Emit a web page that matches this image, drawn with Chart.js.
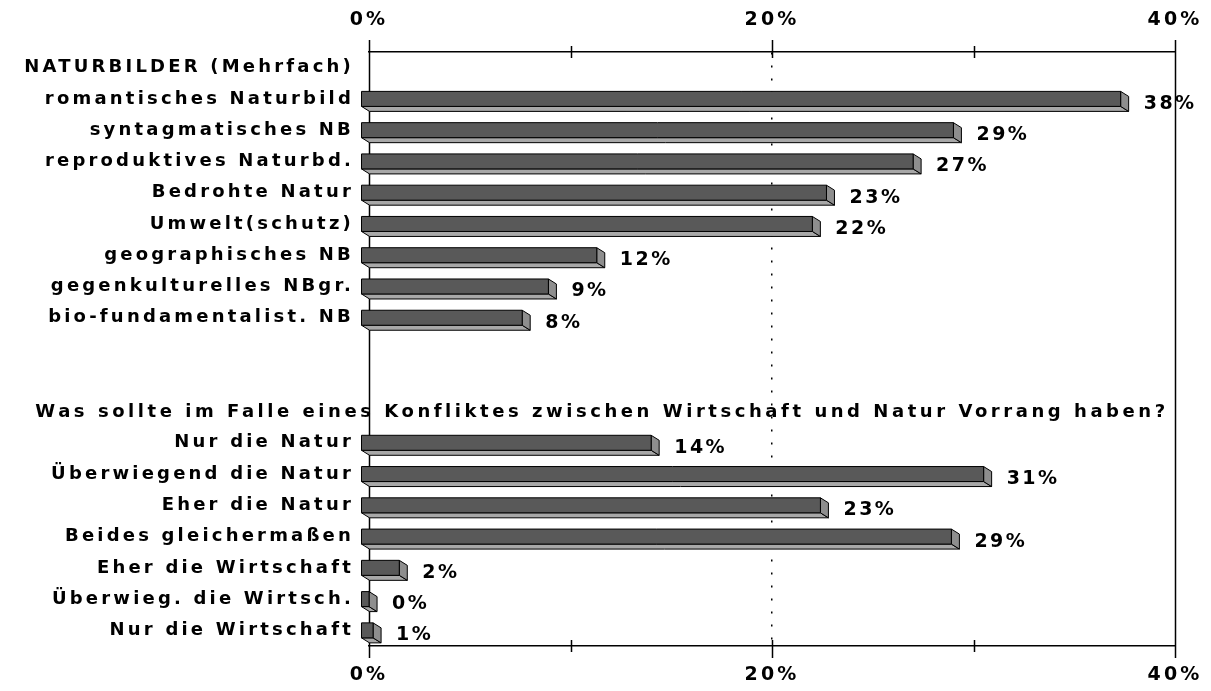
<!DOCTYPE html>
<html>
<head>
<meta charset="utf-8">
<script src="https://cdn.jsdelivr.net/npm/chart.js@4.4.1/dist/chart.umd.min.js"></script>
<style>
  html, body { margin: 0; padding: 0; background: #fff; }
  #wrap { width: 1211px; height: 691px; }
</style>
</head>
<body>
<div id="wrap"><canvas id="chart"></canvas></div>
<script>
// Naturbilder (Mehrfachnennung)
const naturHeader = 'NATURBILDER (Mehrfach)';
const naturLabels = ['romantisches Naturbild', 'syntagmatisches NB', 'reproduktives Naturbd.', 'Bedrohte Natur',
  'Umwelt(schutz)', 'geographisches NB', 'gegenkulturelles NBgr.', 'bio-fundamentalist. NB'];
const naturValues = [37.7, 29.4, 27.4, 23.1, 22.4, 11.7, 9.3, 8.0];

// Vorrang Wirtschaft / Natur
const vorrangHeader = 'Was sollte im Falle eines Konfliktes zwischen Wirtschaft und Natur Vorrang haben?';
const vorrangLabels = ['Nur die Natur', 'Überwiegend die Natur', 'Eher die Natur', 'Beides gleichermaßen',
  'Eher die Wirtschaft', 'Überwieg. die Wirtsch.', 'Nur die Wirtschaft'];
const vorrangValues = [14.4, 30.9, 22.8, 29.3, 1.9, 0.4, 0.6];

const xTickValues = [0, 10, 20, 30, 40];
const xTickLabels = ['0%', '', '20%', '', '40%'];

const labels = [naturHeader, ...naturLabels, '', '', vorrangHeader, ...vorrangLabels];
const values = [null, ...naturValues, null, null, null, ...vorrangValues];
const headerIdx = labels.indexOf(vorrangHeader);

const FONT = '"DejaVu Sans", sans-serif';
const SPACING = '3.2px';
const DX = 8, DY = 5; // Tiefe der 3D-Balken

const threeD = {
  id: 'threeD',
  beforeDraw(chart) {
    chart.ctx.letterSpacing = SPACING;
  },
  beforeDatasetsDraw(chart) {
    const { ctx, chartArea: a, scales: { x } } = chart;
    ctx.save();
    ctx.strokeStyle = '#000';
    ctx.lineWidth = 1.5;
    ctx.beginPath();
    xTickValues.forEach(v => {
      const px = Math.round(x.getPixelForValue(v)) + 0.5;
      const major = v % 20 === 0;
      if (v === 0 || v === 40) {
        ctx.moveTo(px, a.top - 12); ctx.lineTo(px, a.bottom + 12);
      } else {
        ctx.moveTo(px, a.top - (major ? 12 : 6)); ctx.lineTo(px, a.top + 6);
        ctx.moveTo(px, a.bottom - 6); ctx.lineTo(px, a.bottom + (major ? 12 : 6));
      }
    });
    ctx.stroke();
    ctx.restore();
  },
  afterDatasetsDraw(chart) {
    const { ctx, scales: { y } } = chart;
    const meta = chart.getDatasetMeta(0);
    ctx.save();
    ctx.lineWidth = 1;
    ctx.strokeStyle = '#000';
    ctx.lineJoin = 'round';
    meta.data.forEach((el, i) => {
      const v = values[i];
      if (v == null) return;
      const p = el.getProps(['x', 'y', 'base', 'height'], true);
      const x0 = p.base - DX, x1 = Math.max(p.x - DX, x0 + 2);
      const t = p.y - p.height / 2, b = p.y + p.height / 2;
      const poly = (pts, fill) => {
        ctx.beginPath();
        pts.forEach(([px, py], k) => k ? ctx.lineTo(px, py) : ctx.moveTo(px, py));
        ctx.closePath();
        ctx.fillStyle = fill;
        ctx.fill();
        ctx.stroke();
      };
      poly([[x0, b], [x1, b], [x1 + DX, b + DY], [x0 + DX, b + DY]], '#a8a8a8');
      poly([[x1, t], [x1 + DX, t + DY], [x1 + DX, b + DY], [x1, b]], '#8e8e8e');
      poly([[x0, t], [x1, t], [x1, b], [x0, b]], '#595959');

      ctx.fillStyle = '#000';
      ctx.font = 'bold 19px ' + FONT;
      ctx.textAlign = 'left';
      ctx.textBaseline = 'middle';
      ctx.letterSpacing = '2.5px';
      ctx.fillText(Math.round(v) + '%', p.x + 15, p.y + 5);
    });

    // Überschrift der zweiten Frage über die ganze Breite
    ctx.fillStyle = '#000';
    ctx.font = 'bold 18px ' + FONT;
    ctx.textAlign = 'center';
    ctx.textBaseline = 'middle';
    ctx.letterSpacing = '3.55px';
    ctx.fillText(vorrangHeader, 602, y.getPixelForValue(headerIdx) + 1);
    ctx.restore();
  },
  afterDraw(chart) {
    chart.ctx.letterSpacing = '0px';
  }
};

const xCommon = {
  type: 'linear',
  min: 0,
  max: 40,
  afterBuildTicks: s => { s.ticks = xTickValues.map(v => ({ value: v })); },
  ticks: {
    autoSkip: false,
    color: '#000',
    font: { family: FONT, size: 19, weight: 'bold' },
    callback: v => xTickLabels[xTickValues.indexOf(v)] || ''
  },
  border: { display: true, color: '#000', width: 1.5 }
};

new Chart(document.getElementById('chart'), {
  type: 'bar',
  data: {
    labels,
    datasets: [{
      data: values,
      backgroundColor: 'rgba(0,0,0,0)',
      borderWidth: 0,
      barThickness: 15
    }]
  },
  options: {
    indexAxis: 'y',
    responsive: true,
    maintainAspectRatio: false,
    animation: false,
    layout: { padding: { left: 0, right: 36, top: 0, bottom: 0 } },
    plugins: { legend: { display: false }, tooltip: { enabled: false } },
    scales: {
      y: {
        type: 'category',
        afterFit: s => { s.width = 369; },
        grid: { display: false },
        border: { display: false },
        ticks: {
          autoSkip: false,
          padding: 7,
          color: '#000',
          font: { family: FONT, size: 18, weight: 'bold' },
          callback: (v, i) => i === headerIdx ? '' : labels[i]
        }
      },
      x: {
        ...xCommon,
        position: 'bottom',
        afterFit: s => { s.height = 45; s.paddingLeft = 0; s.paddingRight = 0; },
        grid: { drawOnChartArea: false, drawTicks: false },
        ticks: { ...xCommon.ticks, padding: 18 }
      },
      x2: {
        ...xCommon,
        position: 'top',
        afterFit: s => { s.height = 52; s.paddingLeft = 0; s.paddingRight = 0; },
        grid: {
          drawTicks: false,
          lineWidth: 1.5,
          color: c => c.tick && c.tick.value === 20 ? '#000' : 'rgba(0,0,0,0)'
        },
        border: { display: true, color: '#000', width: 1.5, dash: [2, 11] },
        ticks: { ...xCommon.ticks, padding: 21 }
      }
    }
  },
  plugins: [threeD]
});
</script>
</body>
</html>
